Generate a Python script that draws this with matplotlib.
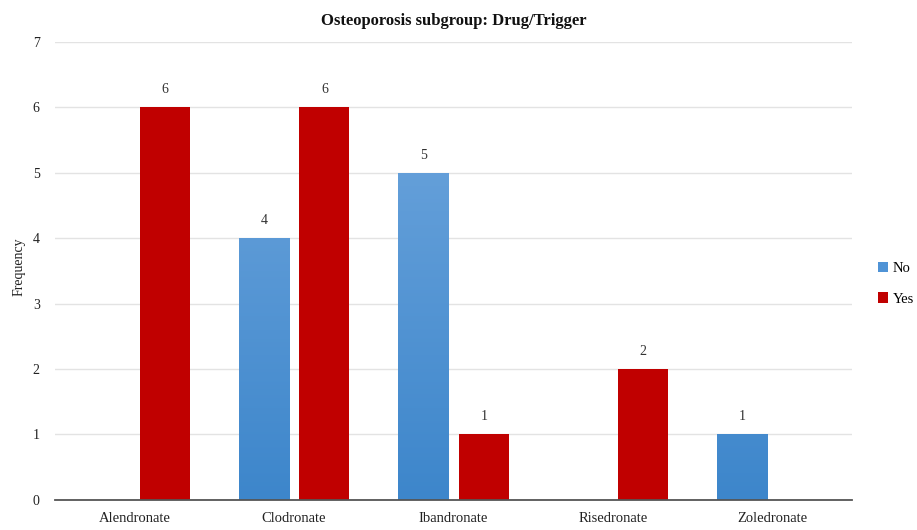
import numpy as np
import matplotlib
matplotlib.use("Agg")
import matplotlib.pyplot as plt
from matplotlib.colors import LinearSegmentedColormap
from matplotlib.patches import Patch

drugs = ["Alendronate", "Clodronate", "Ibandronate", "Risedronate", "Zoledronate"]
no_counts = [0, 4, 5, 0, 1]
yes_counts = [6, 6, 1, 2, 0]
series_names = ["No", "Yes"]

plt.rcParams["font.family"] = ["Liberation Serif", "DejaVu Serif"]

fig = plt.figure(figsize=(9.17, 5.30), dpi=100)
ax = fig.add_axes([0.060, 0.057, 0.869, 0.864])

x = np.arange(len(drugs))
width = 0.315
offset = 0.19

blue_top = "#73a9df"
blue_bot = "#3d86cb"
red = "#c00000"
blue_cmap = LinearSegmentedColormap.from_list("blue_grad", [blue_bot, blue_top])

no_bars = ax.bar(x - offset, no_counts, width, color=blue_top, label=series_names[0], zorder=2)
yes_bars = ax.bar(x + offset, yes_counts, width, color=red, label=series_names[1], zorder=2)

# vertical gradient on the blue bars
grad = np.linspace(0, 1, 256).reshape(-1, 1)
for b in no_bars:
    h = b.get_height()
    if h <= 0:
        continue
    x0 = b.get_x()
    w = b.get_width()
    im = ax.imshow(grad, cmap=blue_cmap, origin="lower", aspect="auto",
                   extent=(x0, x0 + w, 0, 7), zorder=2.1)
    im.set_clip_path(b)

ax.set_xlim(-0.5, len(drugs) - 0.5)
ax.set_ylim(0, 7)

for bars, vals in ((no_bars, no_counts), (yes_bars, yes_counts)):
    for b, v in zip(bars, vals):
        if v > 0:
            ax.text(b.get_x() + b.get_width() / 2, v + 0.17, str(v),
                    ha="center", va="bottom", fontsize=10, color="#333333")

ax.set_yticks(range(0, 8))
ax.set_xticks(x)
ax.set_xticklabels(drugs, fontsize=10.5, color="#222222")
ax.tick_params(axis="y", length=0, labelsize=10, colors="#222222", pad=11)
ax.tick_params(axis="x", length=0, labelsize=10.5, colors="#222222", pad=9)
ax.grid(axis="y", color="#e3e3e3", linewidth=1, zorder=0)
ax.set_axisbelow(True)
for s in ("top", "right", "left"):
    ax.spines[s].set_visible(False)
ax.spines["bottom"].set_color("#555555")
ax.spines["bottom"].set_linewidth(1.3)

ax.set_ylabel("Frequency", fontsize=10, color="#222222")
ax.yaxis.set_label_coords(-0.037, 0.51)
ax.set_title("Osteoporosis subgroup: Drug/Trigger", fontsize=12, fontweight="bold",
             color="#111111", pad=12)

handles = [Patch(facecolor="#4f93d6"), Patch(facecolor=red)]
fig.legend(handles, series_names, loc="center left", bbox_to_anchor=(0.943, 0.465),
           frameon=False, fontsize=10.5, handlelength=0.7, handleheight=0.7,
           handletextpad=0.3, labelspacing=1.2)

fig.savefig("out.png", dpi=100)
